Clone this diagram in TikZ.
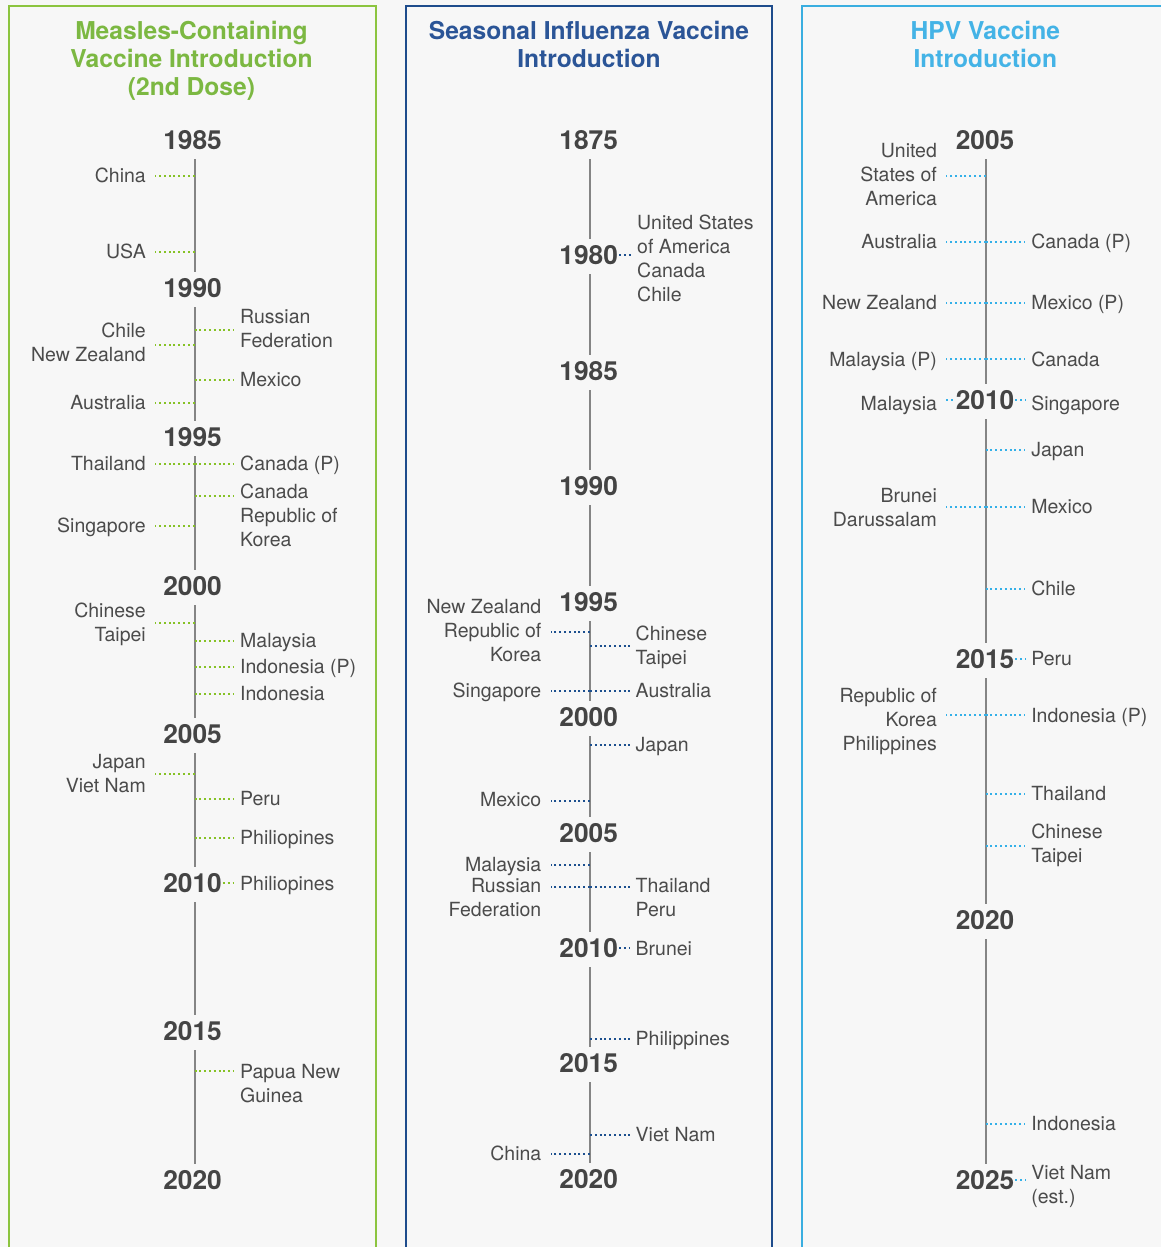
\documentclass[tikz,border=0pt]{standalone}
\usepackage{fontspec}
\setmainfont{TeX Gyre Heros}
\definecolor{bgc}{HTML}{F7F7F7}
\definecolor{grnB}{HTML}{8CC43F}
\definecolor{grnD}{HTML}{86C226}
\definecolor{grnT}{HTML}{7CB842}
\definecolor{navB}{HTML}{1E4C8C}
\definecolor{navD}{HTML}{1C4F8E}
\definecolor{navT}{HTML}{2B5597}
\definecolor{bluB}{HTML}{3AAEE0}
\definecolor{bluD}{HTML}{34B0E8}
\definecolor{bluT}{HTML}{44B3E6}
\definecolor{txtc}{HTML}{4B4B4B}
\definecolor{yrc}{HTML}{444444}
\definecolor{axc}{HTML}{858585}
\newcommand\lblfont{\fontsize{19.5}{24}\selectfont}
\newcommand\yrfont{\fontsize{26.3}{30}\selectfont\bfseries}
\newcommand\ttlfont{\fontsize{24.6}{28}\selectfont\bfseries}
\tikzset{
  lbl/.style={inner sep=0pt, text=txtc, font=\lblfont},
  yrn/.style={inner xsep=0pt, inner ysep=0pt, text height=18pt, text depth=0pt, anchor=base, font=\yrfont, text=yrc},
  ttl/.style={inner sep=0pt, anchor=base, font=\ttlfont},
  ax/.style={draw=axc, line width=2pt, shorten <=10pt, shorten >=7pt},
  dotline/.style={line width=2.2pt, dash pattern=on 2pt off 2.8pt},
  dg/.style={dotline, draw=grnD},
  dn/.style={dotline, draw=navD},
  db/.style={dotline, draw=bluD},
}
% right-side event: name, style, axis x, connector y, baseline, text
\newcommand\evR[6]{%
  \coordinate (#1a) at (#3,#4);
  \node[lbl,anchor=base west] (#1) at (#3+45.5,#5) {\begin{tabular}[t]{@{}l@{}}#6\end{tabular}};
  \draw[#2,shorten >=6pt] (#1a) -- (#1.west |- #1a);}
% left-side event
\newcommand\evL[6]{%
  \coordinate (#1a) at (#3,#4);
  \node[lbl,anchor=base east] (#1) at (#3-48.5,#5) {\begin{tabular}[t]{@{}r@{}}#6\end{tabular}};
  \draw[#2,shorten >=9pt] (#1a) -- (#1.east |- #1a);}
% event attached to a year label: name, style, axis x, baseline, year node, text
\newcommand\evYR[6]{%
  \node[lbl,anchor=base west] (#1) at (#3+45.5,#4) {\begin{tabular}[t]{@{}l@{}}#6\end{tabular}};
  \draw[#2,shorten >=6pt,shorten <=1pt] (#5.east) -- (#1.west |- #5.east);}
\newcommand\evYL[6]{%
  \node[lbl,anchor=base east] (#1) at (#3-48.5,#4) {\begin{tabular}[t]{@{}r@{}}#6\end{tabular}};
  \draw[#2,shorten >=1pt,shorten <=9pt] (#1.east |- #5.west) -- (#5.west);}
\begin{document}
\begin{tikzpicture}[x=1pt,y=-1pt]
\useasboundingbox (0,0) rectangle (1161,1247);
\fill[bgc] (0,0) rectangle (1161,1247);
% panels
\draw[grnB,line width=2pt] (9,1249) -- (9,6) -- (375.5,6) -- (375.5,1249);
\draw[navB,line width=2pt] (405.7,1249) -- (405.7,6) -- (771.7,6) -- (771.7,1249);
\draw[bluB,line width=2pt] (802.3,1249) -- (802.3,6) -- (1163,6);
% titles
\node[ttl,text=grnT] (t1) at (191.5,40) {\begin{tabular}[t]{@{}c@{}}Measles-Containing\\Vaccine Introduction\\(2nd Dose)\end{tabular}};
\node[ttl,text=navT] (t2) at (589,40) {\begin{tabular}[t]{@{}c@{}}Seasonal Influenza Vaccine\\Introduction\end{tabular}};
\node[ttl,text=bluT] (t3) at (985.3,40) {\begin{tabular}[t]{@{}c@{}}HPV Vaccine\\Introduction\end{tabular}};
% axis coordinates
\coordinate (p1ax) at (194.5,0);
\coordinate (p2ax) at (590,0);
\coordinate (p3ax) at (985.6,0);
% ---------- Panel 1 years
\node[yrn] (p1y1985) at (192.5,149) {1985};
\node[yrn] (p1y1990) at (192.5,297) {1990};
\node[yrn] (p1y1995) at (192.5,446) {1995};
\node[yrn] (p1y2000) at (192.5,595) {2000};
\node[yrn] (p1y2005) at (192.5,743) {2005};
\node[yrn] (p1y2010) at (192.5,892) {2010};
\node[yrn] (p1y2015) at (192.5,1040) {2015};
\node[yrn] (p1y2020) at (192.5,1189) {2020};
\foreach \a/\b in {1985/1990,1990/1995,1995/2000,2000/2005,2005/2010,2010/2015,2015/2020}
  \draw[ax] (p1y\a.south -| p1ax) -- (p1y\b.north -| p1ax);
% Panel 1 events
\evL{p1a}{dg}{194.5}{176}{182}{China}
\evL{p1b}{dg}{194.5}{252}{258}{USA}
\evR{p1c}{dg}{194.5}{330}{323.5}{Russian\\Federation}
\evL{p1d}{dg}{194.5}{345}{337}{Chile\\New Zealand}
\evR{p1e}{dg}{194.5}{380}{386}{Mexico}
\evL{p1f}{dg}{194.5}{403}{409}{Australia}
\evL{p1g}{dg}{194.5}{464}{470}{Thailand}
\evR{p1h}{dg}{194.5}{464}{470}{Canada (P)}
\evR{p1i}{dg}{194.5}{496}{498}{Canada\\Republic of\\Korea}
\evL{p1j}{dg}{194.5}{526}{532}{Singapore}
\evL{p1k}{dg}{194.5}{623}{617}{Chinese\\Taipei}
\evR{p1l}{dg}{194.5}{641}{647}{Malaysia}
\evR{p1m}{dg}{194.5}{667}{673}{Indonesia (P)}
\evR{p1n}{dg}{194.5}{694}{700}{Indonesia}
\evL{p1o}{dg}{194.5}{774}{768}{Japan\\Viet Nam}
\evR{p1p}{dg}{194.5}{799}{805}{Peru}
\evR{p1q}{dg}{194.5}{838}{844}{Philiopines}
\evYR{p1r}{dg}{194.5}{890}{p1y2010}{Philiopines}
\evR{p1s}{dg}{194.5}{1071}{1078}{Papua New\\Guinea}
% ---------- Panel 2 years
\node[yrn] (p2y1875) at (588.7,149) {1875};
\node[yrn] (p2y1980) at (588.7,264) {1980};
\node[yrn] (p2y1985) at (588.7,380) {1985};
\node[yrn] (p2y1990) at (588.7,495) {1990};
\node[yrn] (p2y1995) at (588.7,611) {1995};
\node[yrn] (p2y2000) at (588.7,726) {2000};
\node[yrn] (p2y2005) at (588.7,842) {2005};
\node[yrn] (p2y2010) at (588.7,957) {2010};
\node[yrn] (p2y2015) at (588.7,1072) {2015};
\node[yrn] (p2y2020) at (588.7,1188) {2020};
\foreach \a/\b in {1875/1980,1980/1985,1985/1990,1990/1995,1995/2000,2000/2005,2005/2010,2010/2015,2015/2020}
  \draw[ax] (p2y\a.south -| p2ax) -- (p2y\b.north -| p2ax);
% Panel 2 events
\evYR{p2a}{dn}{591.5}{229}{p2y1980}{United States\\of America\\Canada\\Chile}
\evL{p2b}{dn}{590}{631.7}{613}{New Zealand\\Republic of\\Korea}
\evR{p2c}{dn}{590}{646}{640}{Chinese\\Taipei}
\evL{p2d}{dn}{590}{691}{697}{Singapore}
\evR{p2e}{dn}{590}{691}{697}{Australia}
\evR{p2f}{dn}{590}{745}{751}{Japan}
\evL{p2g}{dn}{590}{800.7}{806}{Mexico}
\evL{p2h}{dn}{590}{865}{871}{Malaysia}
\evL{p2i}{dn}{590}{887}{892}{Russian\\Federation}
\evR{p2j}{dn}{590}{887}{892}{Thailand\\Peru}
\evYR{p2k}{dn}{590}{955}{p2y2010}{Brunei}
\evR{p2l}{dn}{590}{1039}{1045}{Philippines}
\evR{p2m}{dn}{590}{1135}{1141}{Viet Nam}
\evL{p2n}{dn}{590}{1154}{1160}{China}
% ---------- Panel 3 years
\node[yrn] (p3y2005) at (985,149) {2005};
\node[yrn] (p3y2010) at (985,409) {2010};
\node[yrn] (p3y2015) at (985,668) {2015};
\node[yrn] (p3y2020) at (985,929) {2020};
\node[yrn] (p3y2025) at (985,1189) {2025};
\foreach \a/\b in {2005/2010,2010/2015,2015/2020,2020/2025}
  \draw[ax] (p3y\a.south -| p3ax) -- (p3y\b.north -| p3ax);
% Panel 3 events
\evL{p3a}{db}{985.6}{176}{157}{United\\States of\\America}
\evL{p3b}{db}{985.6}{241.7}{248}{Australia}
\evR{p3c}{db}{985.6}{241.7}{248}{Canada (P)}
\evL{p3d}{db}{985.6}{302.7}{309}{New Zealand}
\evR{p3e}{db}{985.6}{302.7}{309}{Mexico (P)}
\evL{p3f}{db}{985.6}{359.3}{366}{Malaysia (P)}
\evR{p3g}{db}{985.6}{359.3}{366}{Canada}
\evYL{p3h}{db}{985.6}{410}{p3y2010}{Malaysia}
\evYR{p3i}{db}{985.6}{410}{p3y2010}{Singapore}
\evR{p3j}{db}{985.6}{450}{456}{Japan}
\evL{p3k}{db}{985.6}{506.7}{502}{Brunei\\Darussalam}
\evR{p3l}{db}{985.6}{506.7}{513}{Mexico}
\evR{p3m}{db}{985.6}{589}{595}{Chile}
\evYR{p3n}{db}{985.6}{665}{p3y2015}{Peru}
\evL{p3o}{db}{985.6}{715.3}{702}{Republic of\\Korea\\Philippines}
\evR{p3p}{db}{985.6}{715.3}{722}{Indonesia (P)}
\evR{p3q}{db}{985.6}{794.3}{800}{Thailand}
\evR{p3r}{db}{985.6}{845.7}{838}{Chinese\\Taipei}
\evR{p3s}{db}{985.6}{1123.7}{1130}{Indonesia}
\evYR{p3t}{db}{985.6}{1179}{p3y2025}{Viet Nam\\(est.)}
\end{tikzpicture}
\end{document}
